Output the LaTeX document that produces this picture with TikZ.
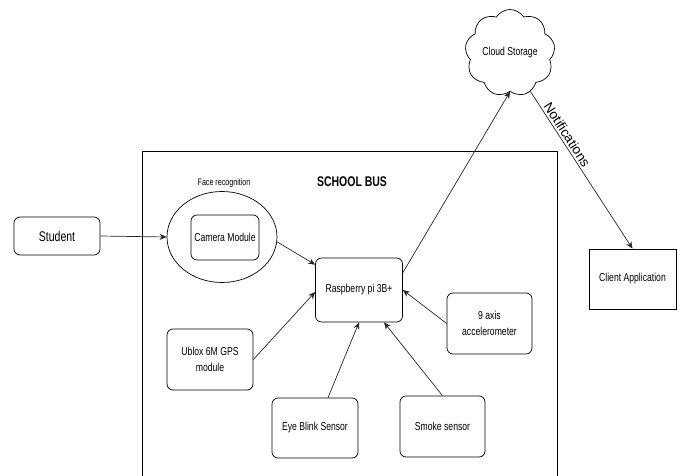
\documentclass[tikz,border=0pt]{standalone}
\usepackage{fontspec}
\setmainfont[FakeStretch=0.75]{Liberation Sans}
\newfontfamily\plainfont{Liberation Sans}
\usetikzlibrary{arrows.meta,shapes.symbols,shapes.geometric}

\begin{document}
\begin{tikzpicture}[x=1pt, y=-1pt,
        line width=0.7pt,
        >={Stealth[length=7pt,width=6pt]},
        part/.style={draw, rounded corners=6pt, inner sep=0pt, align=center,
            font=\fontsize{11.5}{16}\selectfont},
        link/.style={->, draw=black!85}]
        \useasboundingbox (0,0) rectangle (680,476);

        % school bus frame
        \draw (142,151) rectangle (557,480);
        \node[font=\bfseries\fontsize{14}{16}\selectfont] (bus) at (352,182) {SCHOOL BUS};

        \node[part, minimum width=86pt, minimum height=38pt, font=\fontsize{14}{16}\selectfont] (student) at (57,236) {Student};
        \node[draw, ellipse, minimum width=110pt, minimum height=91pt, inner sep=0pt] (face) at (222,237) {};
        \node[part, minimum width=68pt, minimum height=45pt] (camera) at (225,237.5) {Camera Module};
        \node[font=\fontsize{9.5}{11}\selectfont] (facelabel) at (224,183) {Face recognition};

        \node[part, minimum width=87pt, minimum height=64pt] (raspi) at (359,290) {Raspberry pi 3B+};
        \node[part, minimum width=86pt, minimum height=61pt] (ublox) at (210,359.5) {Ublox 6M GPS\\module};
        \node[part, minimum width=86pt, minimum height=60pt] (eye) at (315,428) {Eye Blink Sensor};
        \node[part, minimum width=85pt, minimum height=61pt] (smoke) at (442.5,426.5) {Smoke sensor};
        \node[part, minimum width=85pt, minimum height=61pt] (axis) at (489.5,323.5) {9 axis\\accelerometer};

        \node[draw, cloud, cloud puffs=9, cloud puff arc=115, cloud ignores aspect,
            minimum width=90pt, minimum height=87pt, inner sep=0pt,
            font=\fontsize{11.5}{14}\selectfont] (cloud) at (510,53) {Cloud Storage};
        \node[draw, minimum width=87pt, minimum height=60pt, inner sep=0pt,
            font=\fontsize{11.5}{14}\selectfont] (client) at (632.5,279) {Client Application};

        \draw[link] (student.east) -- (face.west);
        \draw[link] (face.-5) -- ([yshift=-7pt]raspi.north west);
        \draw[link] (ublox.east) -- ([yshift=-2pt]raspi.west);
        \draw[link] ([xshift=13pt]eye.north) -- (raspi.south);
        \draw[link] (smoke.north) -- ([xshift=25pt]raspi.south);
        \draw[link] (axis.west) -- (raspi.east);
        \draw[link] ([yshift=-15pt]raspi.north east) -- (cloud.south);
        \draw[link] (cloud.-62) -- node[pos=0.3, sloped, above, inner sep=2pt,
            font=\plainfont\fontsize{13.5}{15}\selectfont] (notes) {Notifications} (client.north);
    \end{tikzpicture}
\end{document}
